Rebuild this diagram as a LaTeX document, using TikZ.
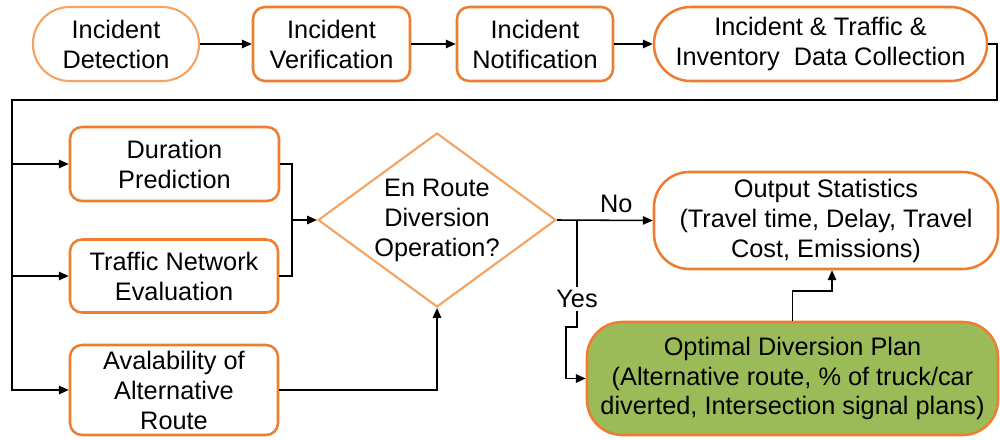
\documentclass[tikz,border=0pt]{standalone}
\usepackage{fontspec}
\setmainfont{Liberation Sans}
\usetikzlibrary{shapes.geometric,arrows.meta,positioning}

\definecolor{boxOrange}{RGB}{237,125,49}
\definecolor{paleOrange}{RGB}{244,164,96}
\definecolor{planGreen}{RGB}{155,187,89}

\def\px{0.025cm}

\tikzset{
  stepText/.style={align=center, font=\fontsize{18}{21.3}\selectfont, inner sep=0pt},
  stepBox/.style={stepText, draw=boxOrange, line width=1.8pt, rounded corners=8.5pt, fill=white},
  stadiumBox/.style={stepBox, rounded corners=26pt},
  termBox/.style={stadiumBox, draw=paleOrange, line width=1.5pt},
  decisionBox/.style={diamond, draw=paleOrange, line width=1.5pt, inner sep=0pt, fill=white},
  flow/.style={line width=1.1pt, -{Triangle[length=7pt,width=6pt]}},
  flowLine/.style={line width=1.1pt}
}

\begin{document}
\begin{tikzpicture}[x=0.025cm, y=-0.025cm]

    \useasboundingbox (0,0) rectangle (1000,440);

    % top row
    \node[termBox, minimum width={166*\px}, minimum height={74*\px}] (detect) at (116,44) {Incident\\Detection};
    \node[stepBox, minimum width={157*\px}, minimum height={74*\px}] (verify) at (331.5,44) {Incident\\Verification};
    \node[stepBox, minimum width={156*\px}, minimum height={74*\px}] (notify) at (535,44) {Incident\\Notification};
    \node[stadiumBox, minimum width={333*\px}, minimum height={74*\px}] (collect) at (820.5,44) {Incident \& Traffic \&\\Inventory\ \ Data Collection};

    % inputs on the left
    \node[stepBox, minimum width={209*\px}, minimum height={74*\px}] (duration) at (174.5,164) {Duration\\Prediction};
    \node[stepBox, minimum width={208*\px}, minimum height={73*\px}] (network) at (174,276) {Traffic Network\\Evaluation};
    \node[stepBox, minimum width={208*\px}, minimum height={90*\px}] (altRoute) at (174,390) {Avalability of\\Alternative\\Route};

    % decision
    \node[decisionBox, minimum width={238*\px}, minimum height={174*\px},
          label={[stepText]center:{En Route\\Diversion\\Operation?}}] (divert) at (437,220) {};

    % results
    \node[stadiumBox, rounded corners=25pt, minimum width={344*\px}, minimum height={97*\px}] (output) at (826,220.5) {Output Statistics\\(Travel time, Delay, Travel\\Cost, Emissions)};
    \node[stadiumBox, rounded corners=25pt, fill=planGreen, minimum width={411*\px}, minimum height={113*\px}] (plan) at (792.5,378.5) {Optimal Diversion Plan\\(Alternative route, \% of truck/car\\diverted, Intersection signal plans)};

    % draw top row arrows
    \draw[flow] (detect) -- (verify);
    \draw[flow] (verify) -- (notify);
    \draw[flow] (notify) -- (collect);

    % draw feedback bus
    \coordinate (busRight) at (997,100);
    \coordinate (busLeft) at (12,100);
    \draw[flow] (collect.east) -| (busRight) -- (busLeft) |- (altRoute.west);
    \draw[flow] (busLeft |- duration.west) -- (duration.west);
    \draw[flow] (busLeft |- network.west) -- (network.west);

    % draw inputs into decision
    \path (divert.west) ++(-25,0) coordinate (join);
    \draw[flowLine] (duration.east) -| (join);
    \draw[flowLine] (network.east) -| (join);
    \draw[flow] (join) -- (divert.west);
    \draw[flow] (altRoute.east) -| (divert.south);

    % draw decision outcomes
    \draw[flow] (divert.east) -- node[stepText, above=5pt, pos=0.62] (no) {No} (output.west);
    \coordinate (yesTop) at (577,220);
    \node[stepText] (yes) at (577,299) {Yes};
    \draw[flowLine] (yesTop) -- ([yshift=2pt]yes.north);
    \draw[flow] ([yshift=-2pt]yes.south) |- (566,327) |- (plan.west);

    % draw plan to statistics
    \coordinate (riser) at (832,291);
    \draw[flow] (plan.north) |- (riser) -- (riser |- output.south);

\end{tikzpicture}
\end{document}
